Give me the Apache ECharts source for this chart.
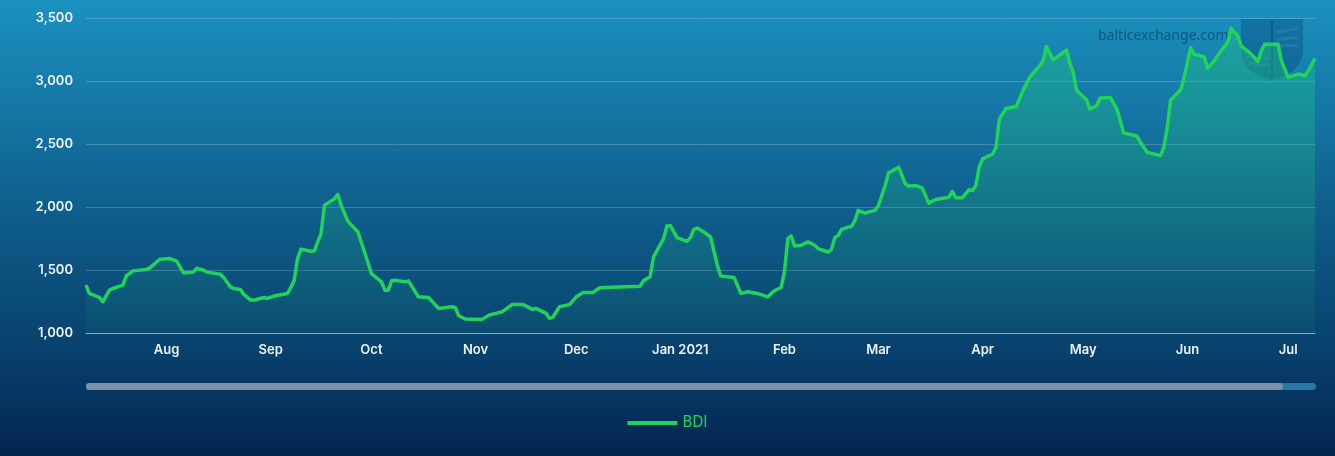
<!DOCTYPE html>
<html>
<head>
<meta charset="utf-8">
<script src="https://cdn.jsdelivr.net/npm/echarts@6/dist/echarts.min.js"></script>
<style>
html,body{margin:0;padding:0;width:1335px;height:456px;overflow:hidden;}
#chart{width:1335px;height:456px;}
</style>
</head>
<body>
<div id="chart"></div>
<script>
// Day offsets counted from 2020-08-01 (UTC) and BDI values
const dayOffsets = [-24,-23,-21,-20,-19,-17,-16,-13,-12,-10,-6,-5,-2,1,3,5,8,9,11,12,16,17,19,20,22,23,25,26,29,30,32,36,37,38,39,40,43,44,45,46,47,49,50,51,52,54,57,61,64,65,66,67,68,71,72,73,75,78,81,85,86,87,89,94,96,100,103,106,109,110,113,114,115,117,120,122,123,124,127,129,135,141,142,144,145,148,149,150,152,155,156,157,158,160,162,164,165,169,171,173,176,179,181,183,184,185,186,187,189,191,193,194,197,198,199,200,201,204,205,206,208,211,212,214,215,218,219,220,221,223,225,227,229,233,234,235,237,239,240,241,242,243,246,247,248,250,253,255,257,260,261,262,264,268,269,270,271,274,275,277,278,281,283,284,285,289,290,292,296,297,298,299,302,303,305,306,309,310,312,314,316,317,319,320,323,325,326,327,331,332,334,337,339,340,342];
const bdiValues = [1380,1314,1293,1282,1248,1340,1353,1380,1453,1493,1504,1517,1585,1591,1570,1477,1485,1514,1498,1483,1467,1440,1366,1353,1346,1306,1261,1261,1282,1274,1293,1314,1361,1419,1591,1665,1649,1651,1723,1789,2013,2047,2066,2100,2013,1886,1802,1472,1406,1340,1340,1414,1419,1406,1414,1372,1287,1282,1195,1208,1200,1137,1111,1108,1142,1169,1227,1227,1187,1195,1156,1116,1124,1208,1225,1287,1303,1322,1322,1359,1366,1372,1414,1446,1604,1749,1849,1854,1757,1728,1757,1823,1833,1802,1762,1538,1453,1441,1314,1327,1314,1287,1335,1361,1485,1749,1770,1691,1696,1723,1696,1670,1643,1662,1757,1775,1823,1847,1894,1973,1952,1973,2013,2171,2271,2316,2250,2184,2166,2171,2152,2031,2060,2078,2123,2074,2074,2137,2131,2171,2316,2382,2421,2474,2698,2782,2798,2922,3028,3120,3160,3273,3168,3245,3140,3068,2926,2849,2778,2804,2865,2870,2778,2686,2588,2561,2514,2435,2408,2474,2632,2849,2930,3028,3266,3213,3192,3102,3160,3239,3305,3418,3358,3279,3213,3155,3239,3292,3292,3160,3028,3055,3042,3081,3179];
const monthNames = ['Jan','Feb','Mar','Apr','May','Jun','Jul','Aug','Sep','Oct','Nov','Dec'];
const yTicks = [1000,1500,2000,2500,3000,3500];
const seriesName = 'BDI';

const DAY = 86400000;
const base = Date.UTC(2020, 7, 1);
const seriesData = dayOffsets.map((d, i) => [base + d * DAY, bdiValues[i]]);

const chart = echarts.init(document.getElementById('chart'), null, {renderer: 'canvas'});
const labelFont = 'Inter, Roboto, "Noto Sans", sans-serif';

// shield outline points (watermark decoration)
const shieldPts = [[0,0],[62,0],[62,34],[59,44],[52,52],[42,58],[31,62],[20,58],[10,52],[3,44],[0,34]];

chart.setOption({
  useUTC: true,
  animation: false,
  backgroundColor: new echarts.graphic.LinearGradient(0, 0, 0, 1, [
    {offset: 0, color: '#1b91c0'},
    {offset: 0.45, color: '#0f5f8c'},
    {offset: 0.8, color: '#073e69'},
    {offset: 1, color: '#02244f'}
  ]),
  grid: {left: 86, right: 20, top: 18, bottom: 123, containLabel: false},
  legend: {
    data: [seriesName],
    left: 'center',
    top: 410,
    icon: 'rect',
    itemWidth: 50,
    itemHeight: 4,
    itemGap: 6,
    textStyle: {color: '#22d35a', fontSize: 16, fontFamily: '"Liberation Sans Narrow", "DejaVu Sans Condensed", sans-serif', fontWeight: 'normal'}
  },
  graphic: [
    {
      type: 'text', x: 1098, y: 29, z: 0,
      style: {text: 'balticexchange.com', fill: 'rgba(0,40,80,0.5)', font: '14px "Noto Sans", "Open Sans", sans-serif'}
    },
    {
      type: 'polygon', x: 1241, y: 19, z: 0,
      shape: {points: shieldPts},
      style: {fill: 'rgba(0,50,100,0.28)'}
    },
    {
      type: 'rect', x: 1271, y: 21, z: 0,
      shape: {width: 2, height: 58},
      style: {fill: 'rgba(0,50,100,0.3)'}
    },
    {
      type: 'polygon', x: 1276, y: 27, z: 0,
      shape: {points: [[0,4],[22,0],[22,3],[0,7]]},
      style: {fill: 'rgba(60,140,190,0.35)'}
    },
    {
      type: 'polygon', x: 1276, y: 35, z: 0,
      shape: {points: [[0,3],[22,1],[22,4],[0,6]]},
      style: {fill: 'rgba(60,140,190,0.35)'}
    },
    {
      type: 'polygon', x: 1276, y: 43, z: 0,
      shape: {points: [[0,1],[22,1],[22,4],[0,4]]},
      style: {fill: 'rgba(60,140,190,0.35)'}
    },
    {
      type: 'polyline', x: 1245, y: 56, z: 0,
      shape: {points: [[0,2],[6,0],[12,3],[18,1],[24,3]]},
      style: {stroke: 'rgba(60,140,190,0.4)', lineWidth: 2, fill: null}
    },
    {
      type: 'polyline', x: 1248, y: 63, z: 0,
      shape: {points: [[0,2],[6,0],[12,3],[18,1],[21,2]]},
      style: {stroke: 'rgba(60,140,190,0.4)', lineWidth: 2, fill: null}
    },
    {
      type: 'rect', x: 86, y: 383, z: 0,
      shape: {width: 1230, height: 7, r: 3.5},
      style: {fill: '#2a78a6'}
    },
    {
      type: 'rect', x: 86, y: 383, z: 1,
      shape: {width: 1197, height: 7, r: 3.5},
      style: {fill: '#7a92a8'}
    }
  ],
  xAxis: {
    type: 'time',
    min: 'dataMin',
    max: 'dataMax',
    splitNumber: 12,
    axisLine: {show: true, lineStyle: {color: 'rgba(200,222,238,0.55)', width: 1}},
    axisTick: {show: false},
    splitLine: {show: false},
    axisLabel: {
      showMinLabel: false,
      showMaxLabel: false,
      hideOverlap: false,
      margin: 11,
      color: '#eef3f7',
      fontSize: 13,
      fontWeight: 600,
      fontFamily: labelFont,
      formatter: function (val) {
        const d = new Date(val);
        const m = d.getUTCMonth();
        if (d.getUTCDate() !== 1) return '';
        return m === 0 ? monthNames[m] + ' ' + d.getUTCFullYear() : monthNames[m];
      }
    }
  },
  yAxis: {
    type: 'value',
    min: yTicks[0],
    max: yTicks[yTicks.length - 1],
    interval: 500,
    axisLine: {show: false},
    axisTick: {show: false},
    splitLine: {lineStyle: {color: 'rgba(255,255,255,0.2)', width: 1}},
    axisLabel: {
      margin: 13,
      color: '#eef3f7',
      fontSize: 13,
      fontWeight: 600,
      fontFamily: labelFont,
      formatter: v => v.toLocaleString('en-US')
    }
  },
  series: [{
    name: seriesName,
    type: 'line',
    data: seriesData,
    showSymbol: false,
    symbol: 'none',
    z: 3,
    lineStyle: {color: '#22d35a', width: 3.5, join: 'round'},
    itemStyle: {color: '#22d35a'},
    areaStyle: {
      color: new echarts.graphic.LinearGradient(0, 0, 0, 1, [
        {offset: 0, color: 'rgba(32,200,125,0.6)'},
        {offset: 1, color: 'rgba(32,200,125,0.08)'}
      ])
    }
  }]
});
</script>
</body>
</html>
